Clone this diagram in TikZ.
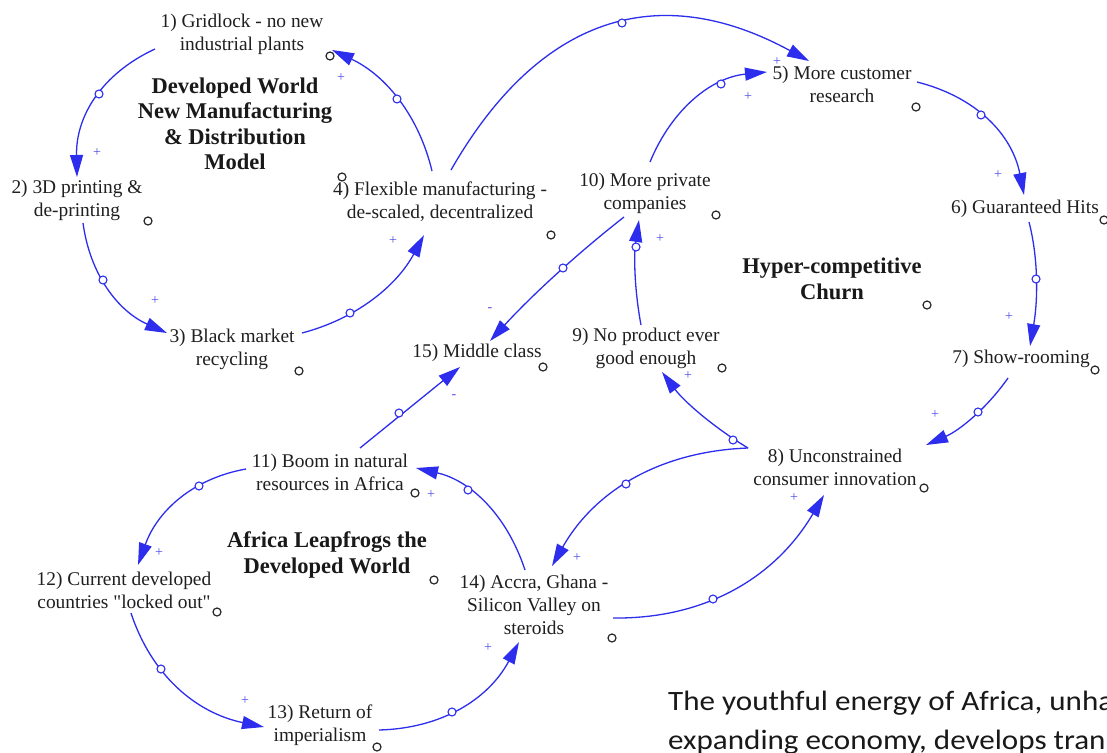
\documentclass[tikz,border=0pt]{standalone}
\usepackage{fontspec}
\usepackage{graphicx}
\setmainfont{Liberation Serif}
\newfontfamily\calibfont{Carlito}
\usetikzlibrary{arrows.meta,calc}
\definecolor{cldblue}{RGB}{45,45,238}
\definecolor{polblue}{RGB}{80,80,235}
\tikzset{
  var/.style={font=\fontsize{19.4}{23}\selectfont, align=center, inner sep=0pt, text=black!88},
  ttl/.style={font=\fontsize{22.5}{25.5}\selectfont\bfseries, align=center, inner sep=0pt, text=black!90},
  cl/.style={draw=cldblue, line width=1.3pt, -{Triangle[length=22pt,width=13pt]}},
  hdl/.style={circle, draw=cldblue, fill=white, line width=1.1pt, minimum size=8pt, inner sep=0pt},
  mk/.style={circle, draw=black!85, fill=white, line width=1.2pt, minimum size=8pt, inner sep=0pt},
  pol/.style={font=\fontsize{14}{14}\selectfont, text=polblue, inner sep=0pt},
  body/.style={font=\calibfont\fontsize{28}{38}\selectfont, inner sep=0pt, anchor=base west, text=black!90}
}
\begin{document}
\begin{tikzpicture}[x=1pt,y=-1pt]
\useasboundingbox (0,0) rectangle (1107,752);
\fill[white] (0,0) rectangle (1107,752);

% variables
\node[var] (n1) at (242,34) {1) Gridlock - no new\\industrial plants};
\node[var] (n2) at (77,200) {2) 3D printing \&\\de-printing};
\node[var] (n3) at (232,349) {3) Black market\\recycling};
\node[var] (n4) at (440,202) {4) Flexible manufacturing -\\de-scaled, decentralized};
\node[var] (n5) at (842,84) {5) More customer\\research};
\node[var] (n6) at (1025,209) {6) Guaranteed Hits};
\node[var] (n7) at (1021,359) {7) Show-rooming};
\node[var] (n8) at (835,467) {8) Unconstrained\\consumer innovation};
\node[var] (n9) at (646,348) {9) No product ever\\good enough};
\node[var] (n10) at (645,193) {10) More private\\companies};
\node[var] (n11) at (330,472) {11) Boom in natural\\resources in Africa};
\node[var] (n12) at (124,590) {12) Current developed\\countries \textquotedbl locked out\textquotedbl};
\node[var] (n13) at (320,725) {13) Return of\\imperialism};
\node[var] (n14) at (534,605) {14) Accra, Ghana -\\Silicon Valley on\\steroids};
\node[var] (n15) at (477,353) {15) Middle class};

% loop titles
\node[ttl] (t1) at (235,124) {Developed World\\New Manufacturing\\\& Distribution\\Model};
\node[ttl] (t2) at (832,279) {Hyper-competitive\\Churn};
\node[ttl] (t3) at (327,555) {Africa Leapfrogs the\\Developed World};

% causal links
\draw[cl] ($(n1)+(-87,15)$) .. controls (101.7,73.7) and (75.7,116.3) .. ($(n2)+(0,-23)$);
\draw[cl] ($(n2)+(6,23)$) .. controls (89.9,274.3) and (117.9,311) .. ($(n3)+(-65,-16)$);
\draw[cl] ($(n3)+(70,-16)$) .. controls (355.8,318.9) and (396.5,286.2) .. ($(n4)+(-16,33)$);
\draw[cl] ($(n4)+(-8,-31)$) .. controls (418.7,115.3) and (385.3,75) .. ($(n1)+(90,16)$);
\draw[cl] ($(n4)+(11,-32)$) .. controls (539.5,15.5) and (658.8,-20.8) .. ($(n5)+(-33,-23)$);
\draw[cl] ($(n10)+(5,-31)$) .. controls (672.2,108.4) and (711.9,77.4) .. ($(n5)+(-75,-12)$);
\draw[cl] ($(n5)+(75,-2)$) .. controls (976.5,97) and (1012.2,134.7) .. ($(n6)+(-1,-14)$);
\draw[cl] ($(n6)+(4,13)$) .. controls (1038,256.7) and (1038.3,298) .. ($(n7)+(9,-13)$);
\draw[cl] ($(n7)+(-13,19)$) .. controls (987.1,408) and (959.7,430.3) .. ($(n8)+(91,-22)$);
\draw[cl] ($(n8)+(-87,-19)$) .. controls (712.7,426.7) and (684,401.3) .. ($(n9)+(16,24)$);
\draw[cl] ($(n8)+(-87,-19)$) .. controls (660.1,451.3) and (594.7,490.6) .. ($(n14)+(18,-39)$);
\draw[cl] ($(n14)+(79,13)$) .. controls (704.6,619.1) and (775,578.1) .. ($(n8)+(-11,28)$);
\draw[cl] ($(n9)+(-5,-23)$) .. controls (634.3,289.4) and (633.7,254.4) .. ($(n10)+(-6,27)$);
\draw[cl] ($(n10)+(-21,24)$) .. controls (576,254.6) and (531.3,295.9) .. ($(n15)+(13,-12)$);
\draw[cl] ($(n11)+(30,-24)$) -- ($(n15)+(-17,14)$);
\draw[cl] ($(n11)+(-84,-3)$) .. controls (193.6,478.3) and (157.6,510.3) .. ($(n12)+(14,-25)$);
\draw[cl] ($(n12)+(7,23)$) .. controls (151.3,674.8) and (195.6,712.8) .. ($(n13)+(-56,2)$);
\draw[cl] ($(n13)+(59,5)$) .. controls (441.8,728.4) and (488.5,699.1) .. ($(n14)+(-15,37)$);
\draw[cl] ($(n14)+(-9,-35)$) .. controls (506.6,514.4) and (470.3,480.4) .. ($(n11)+(86,-4)$);

% link handles
\node[hdl] (h1) at (99,94) {};
\node[hdl] (h2) at (103,280) {};
\node[hdl] (h3) at (350,313) {};
\node[hdl] (h4) at (397,99) {};
\node[hdl] (h5) at (622,23) {};
\node[hdl] (h6) at (721,84) {};
\node[hdl] (h7) at (981,115) {};
\node[hdl] (h8) at (1036,279) {};
\node[hdl] (h9) at (978,412) {};
\node[hdl] (h10) at (733,440) {};
\node[hdl] (h11) at (626,484) {};
\node[hdl] (h12) at (713,599) {};
\node[hdl] (h13) at (636,247) {};
\node[hdl] (h14) at (563,268) {};
\node[hdl] (h15) at (399,413) {};
\node[hdl] (h16) at (199,486) {};
\node[hdl] (h17) at (161,669) {};
\node[hdl] (h18) at (452,712) {};
\node[hdl] (h19) at (468,490) {};

% variable markers
\node[mk] (m1) at (330,56) {};
\node[mk] (m2) at (148,221) {};
\node[mk] (m3) at (299,371) {};
\node[mk] (m4) at (551,235) {};
\node[mk] (m5) at (916,107) {};
\node[mk] (m6) at (1104,220) {};
\node[mk] (m7) at (1095,370) {};
\node[mk] (m8) at (924,488) {};
\node[mk] (m9) at (722,368) {};
\node[mk] (m10) at (716,215) {};
\node[mk] (m11) at (415,493) {};
\node[mk] (m12) at (217,612) {};
\node[mk] (m13) at (377,747) {};
\node[mk] (m14) at (612,638) {};
\node[mk] (m15) at (543,367) {};
\node[mk] (mt1) at (342,177) {};
\node[mk] (mt2) at (927,305) {};
\node[mk] (mt3) at (434,580) {};

% polarities
\node[pol] (p1) at (97,153) {+};
\node[pol] (p2) at (155,301) {+};
\node[pol] (p3) at (393,241) {+};
\node[pol] (p4) at (341,78) {+};
\node[pol] (p5) at (777,62) {+};
\node[pol] (p6) at (748,97) {+};
\node[pol] (p7) at (998,175) {+};
\node[pol] (p8) at (1009,317) {+};
\node[pol] (p9) at (935,415) {+};
\node[pol] (p10) at (688,376) {+};
\node[pol] (p11) at (577,558) {+};
\node[pol] (p12) at (794,498) {+};
\node[pol] (p13) at (660,239) {+};
\node[pol] (p14) at (490,310) {-};
\node[pol] (p15) at (454,397) {-};
\node[pol] (p16) at (159,553) {+};
\node[pol] (p17) at (245,701) {+};
\node[pol] (p18) at (488,648) {+};
\node[pol] (p19) at (431,495) {+};

% slide text (cut at the right edge)
\begin{scope}
\clip (0,0) rectangle (1107,752);
\node[body] (b1) at (668,710) {\scalebox{1.11}[1]{The youthful energy of Africa, unha}};
\node[body] (b2) at (668,749) {\scalebox{1.11}[1]{expanding economy, develops tran}};
\end{scope}
\end{tikzpicture}
\end{document}
